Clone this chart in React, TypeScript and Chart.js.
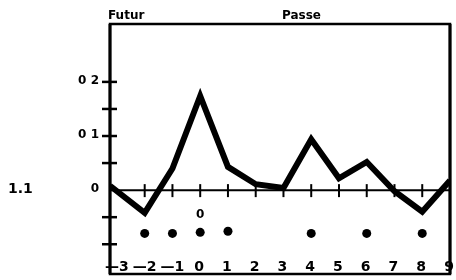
import React, { useEffect, useRef } from "react";
import { Chart, registerables } from "chart.js";

Chart.register(...registerables);

const lineX = [-3.25, -2, -1, 0, 1, 2, 3, 4, 5, 6, 7, 8, 9];
const lineY = [0.008, -0.042, 0.04, 0.174, 0.043, 0.011, 0.004, 0.094, 0.022, 0.052, -0.002, -0.04, 0.018];
const dotX = [-2, -1, 0, 1, 4, 6, 8];
const dotY = [-0.08, -0.08, -0.078, -0.076, -0.08, -0.08, -0.08];
const xTickValues = [-3, -2, -1, 0, 1, 2, 3, 4, 5, 6, 7, 8, 9];
const xTickLabels = ["—3", "—2", "—1", "0", "1", "2", "3", "4", "5", "6", "7", "8", "9"];
const yTickValues = [-0.1, -0.05, 0.05, 0.1, 0.15, 0.2];
const yLabelValues = [0, 0.1, 0.2];
const yLabelTexts = ["0", "0 1", "0 2"];
const headerLabels = ["Futur", "Passe"];
const sideLabel = "1.1";
const noteLabel = "0";

const FONT = "'DejaVu Sans', sans-serif";

const decorPlugin = {
  id: "decor",
  beforeDatasetsDraw(chart: any) {
    const { ctx, chartArea: a, scales } = chart;
    const xs = scales.x;
    const ys = scales.y;
    const y0 = ys.getPixelForValue(0);
    ctx.save();
    ctx.strokeStyle = "#000";
    ctx.lineCap = "butt";
    // box
    ctx.lineWidth = 2.5;
    ctx.strokeRect(a.left, a.top, a.right - a.left, a.bottom - a.top);
    ctx.lineWidth = 3;
    ctx.beginPath();
    ctx.moveTo(a.left, a.top);
    ctx.lineTo(a.left, a.bottom);
    ctx.moveTo(a.right, a.top);
    ctx.lineTo(a.right, a.bottom);
    ctx.stroke();
    // zero line
    ctx.lineWidth = 2;
    ctx.beginPath();
    ctx.moveTo(a.left, y0);
    ctx.lineTo(a.right, y0);
    ctx.stroke();
    // x ticks on zero line
    ctx.lineWidth = 2;
    xTickValues.forEach((v) => {
      if (v <= -3 || v >= 9) return;
      const px = xs.getPixelForValue(v);
      ctx.beginPath();
      ctx.moveTo(px, y0 - 6);
      ctx.lineTo(px, y0 + 7);
      ctx.stroke();
    });
    // y ticks crossing left border
    ctx.lineWidth = 2.5;
    yTickValues.forEach((v) => {
      const py = ys.getPixelForValue(v);
      ctx.beginPath();
      ctx.moveTo(a.left - 8, py);
      ctx.lineTo(a.left + 7, py);
      ctx.stroke();
    });
    // text
    ctx.fillStyle = "#000";
    ctx.font = `bold 12px ${FONT}`;
    ctx.textBaseline = "middle";
    ctx.textAlign = "right";
    yLabelValues.forEach((v, i) => {
      const py = ys.getPixelForValue(v);
      ctx.fillText(yLabelTexts[i], a.left - 11, py - 1);
    });
    ctx.textAlign = "left";
    ctx.font = `bold 14px ${FONT}`;
    ctx.fillText(sideLabel, 8, y0 - 1);
    ctx.font = `bold 12px ${FONT}`;
    ctx.textBaseline = "alphabetic";
    ctx.fillText(headerLabels[0], a.left - 2, 19);
    ctx.textAlign = "center";
    ctx.fillText(headerLabels[1], xs.getPixelForValue(3.65), 19);
    // x labels inside bottom
    ctx.font = `bold 14px ${FONT}`;
    xTickValues.forEach((v, i) => {
      const px = xs.getPixelForValue(v);
      const t = xTickLabels[i];
      if (t.startsWith("—")) {
        ctx.textAlign = "right";
        const dw = ctx.measureText(t.slice(1)).width;
        ctx.fillText(t, px + dw / 2 + 7, a.bottom - 3);
      } else {
        ctx.textAlign = "center";
        ctx.fillText(t, px - 1, a.bottom - 3);
      }
    });
    ctx.font = `bold 12px ${FONT}`;
    ctx.textAlign = "center";
    ctx.textBaseline = "middle";
    ctx.fillText(noteLabel, xs.getPixelForValue(0), ys.getPixelForValue(-0.045));
    ctx.restore();
  },
};

export default function App() {
  const ref = useRef<HTMLCanvasElement | null>(null);
  useEffect(() => {
    if (!ref.current) return;
    const chart = new Chart(ref.current, {
      type: "scatter",
      data: {
        datasets: [
          {
            data: lineX.map((x, i) => ({ x, y: lineY[i] })),
            showLine: true,
            borderColor: "#000",
            borderWidth: 6,
            borderJoinStyle: "miter",
            pointRadius: 0,
            tension: 0,
          },
          {
            data: dotX.map((x, i) => ({ x, y: dotY[i] })),
            showLine: false,
            backgroundColor: "#000",
            borderColor: "#000",
            pointRadius: 4.5,
            borderWidth: 0,
          },
        ],
      },
      options: {
        animation: false,
        responsive: false,
        devicePixelRatio: 1,
        layout: { padding: { left: 110, right: 6, top: 24, bottom: 6 } },
        plugins: { legend: { display: false }, tooltip: { enabled: false } },
        scales: {
          x: { type: "linear", min: -3.25, max: 9, display: false },
          y: { type: "linear", min: -0.155, max: 0.307, display: false },
        },
      },
      plugins: [decorPlugin],
    } as any);
    return () => chart.destroy();
  }, []);
  return (
    <div style={{ position: "fixed", left: 0, top: 0, width: 456, height: 280, background: "#fff" }}>
      <canvas ref={ref} width={456} height={280} />
    </div>
  );
}
